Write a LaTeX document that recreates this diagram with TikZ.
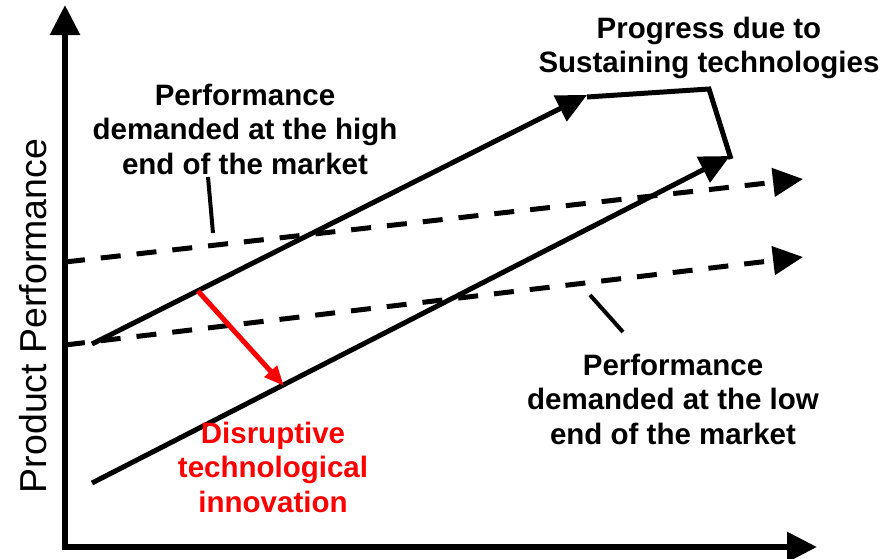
\documentclass[tikz,border=0pt]{standalone}
\usepackage{fontspec}
\setmainfont{Liberation Sans}
\usetikzlibrary{arrows.meta}

\tikzset{
  axisline/.style={line width=6pt, -{Triangle[length=30pt,width=29pt]}},
  trend/.style={line width=5pt, -{Triangle[length=30pt,width=28pt]}},
  demand/.style={trend, dash pattern=on 20pt off 16pt},
  pointer/.style={line width=4pt},
  lbl/.style={font=\bfseries\fontsize{29.5}{34.5}\selectfont, align=center, inner sep=0pt}
}

\begin{document}
\begin{tikzpicture}[x=1pt, y=-1pt]
  \useasboundingbox (0,0) rectangle (895,558);
  % axes
  \coordinate (origin) at (65,547);
  \coordinate (ytip) at (65,5);
  \coordinate (xtip) at (817,547);
  \draw[axisline] ([yshift=-3pt]origin) -- (ytip);
  \draw[axisline] ([xshift=-3pt]origin) -- (xtip);
  \node[rotate=90, font=\fontsize{37.5}{40}\selectfont] (ylab) at (33,316) {Product Performance};

  % demanded performance (dashed)
  \coordinate (hiA) at (65,262); \coordinate (hiB) at (803,179);
  \coordinate (loA) at (65,345); \coordinate (loB) at (803,257);
  \draw[demand] (hiA) -- (hiB);
  \draw[demand] (loA) -- (loB);

  % technology trajectories
  \coordinate (sustA) at (92,344); \coordinate (sustB) at (587,95);
  \coordinate (disA) at (92,483);  \coordinate (disB) at (730,156);
  \draw[trend] (sustA) -- (sustB);
  \draw[trend] (disA) -- (disB);

  % bracket to label
  \coordinate (brk) at (709,89);
  \draw[line width=5pt] ([yshift=-2pt]sustB) -- (brk) -- ([xshift=1pt,yshift=-3pt]disB);

  % disruption
  \coordinate (jumpA) at (198,291); \coordinate (jumpB) at (284,386);
  \draw[red, line width=5pt, -{Triangle[length=20pt,width=16pt]}] (jumpA) -- (jumpB);

  % labels
  \node[lbl] (high) at (245,129) {Performance\\demanded at the high\\end of the market};
  \node[lbl] (prog) at (709,48) {Progress due to\\Sustaining technologies};
  \node[lbl] (low) at (673,399) {Performance\\demanded at the low\\end of the market};
  \node[lbl, red] (disr) at (273,467) {Disruptive\\technological\\innovation};

  % pointers
  \coordinate (hiT1) at (208,177); \coordinate (hiT2) at (213,233);
  \coordinate (loT1) at (590,295); \coordinate (loT2) at (623,332);
  \draw[pointer] (hiT1) -- (hiT2);
  \draw[pointer] (loT1) -- (loT2);
\end{tikzpicture}
\end{document}
